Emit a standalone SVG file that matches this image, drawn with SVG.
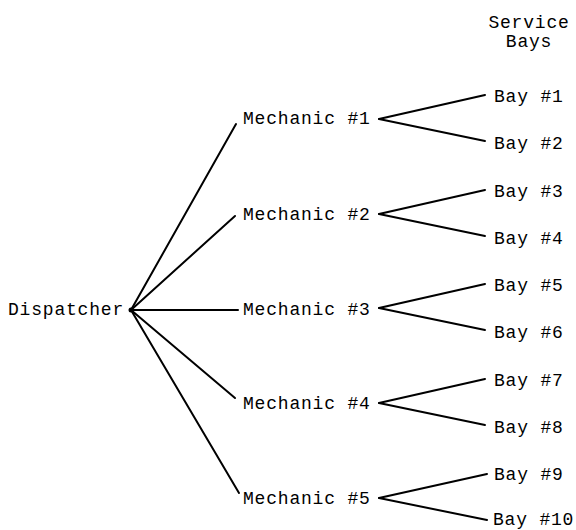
<svg xmlns="http://www.w3.org/2000/svg" width="576" height="530" viewBox="0 0 576 530">
<style>
text{font-family:"Liberation Mono","DejaVu Sans Mono",monospace;font-size:18px;letter-spacing:0.8px;fill:#000}
.c line{stroke:#000;stroke-width:2;stroke-linecap:round}
</style>
<rect width="576" height="530" fill="#fff"/>
<g id="header"><text x="529" y="28" text-anchor="middle">Service</text><text x="529" y="47" text-anchor="middle">Bays</text></g>
<g class="c" id="connectors">
<line x1="131" y1="310" x2="236" y2="124"/>
<line x1="131" y1="310" x2="235" y2="216"/>
<line x1="131" y1="310" x2="238" y2="310"/>
<line x1="131" y1="310" x2="235" y2="398"/>
<line x1="131" y1="310" x2="239" y2="493"/>
<line x1="379" y1="119" x2="485" y2="95"/><line x1="379" y1="119" x2="485" y2="141"/>
<line x1="379" y1="214" x2="485" y2="190"/><line x1="379" y1="214" x2="485" y2="236"/>
<line x1="379" y1="308" x2="485" y2="284"/><line x1="379" y1="308" x2="485" y2="330"/>
<line x1="379" y1="403" x2="485" y2="379"/><line x1="379" y1="403" x2="485" y2="425"/>
<line x1="379" y1="498" x2="487" y2="474"/><line x1="379" y1="498" x2="487" y2="520"/>
<circle cx="131" cy="310" r="2.5" fill="#000"/>
</g>
<g id="dispatcher"><text x="8" y="315">Dispatcher</text></g>
<g id="mech1"><text x="243" y="124">Mechanic #1</text></g>
<g id="mech2"><text x="243" y="220">Mechanic #2</text></g>
<g id="mech3"><text x="243" y="315">Mechanic #3</text></g>
<g id="mech4"><text x="243" y="409">Mechanic #4</text></g>
<g id="mech5"><text x="243" y="504">Mechanic #5</text></g>
<g id="bay1"><text x="494" y="102">Bay #1</text></g>
<g id="bay2"><text x="494" y="149">Bay #2</text></g>
<g id="bay3"><text x="494" y="197">Bay #3</text></g>
<g id="bay4"><text x="494" y="244">Bay #4</text></g>
<g id="bay5"><text x="494" y="291">Bay #5</text></g>
<g id="bay6"><text x="494" y="338">Bay #6</text></g>
<g id="bay7"><text x="494" y="386">Bay #7</text></g>
<g id="bay8"><text x="494" y="433">Bay #8</text></g>
<g id="bay9"><text x="494" y="480">Bay #9</text></g>
<g id="bay10"><text x="493" y="525">Bay #10</text></g>
</svg>
